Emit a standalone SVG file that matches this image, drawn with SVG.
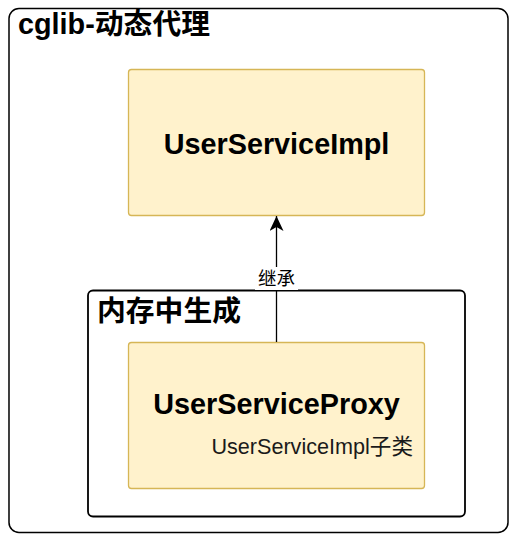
<svg xmlns="http://www.w3.org/2000/svg" width="516" height="541" viewBox="0 0 516 541">
  <style>
    .frame { fill: #ffffff; stroke: #000000; }
    .cls { fill: #fff2cc; stroke: #d6b656; stroke-width: 1.3; }
    .title { font-family: "Liberation Sans", "Noto Sans CJK SC", sans-serif; font-weight: bold; font-size: 28.8px; fill: #000000; }
    .name { font-family: "Liberation Sans", "Noto Sans CJK SC", sans-serif; font-weight: bold; font-size: 28.8px; fill: #000000; text-anchor: middle; }
    .sub { font-family: "Liberation Sans", "Noto Sans CJK SC", sans-serif; font-size: 21.6px; fill: #1a1a1a; text-anchor: end; }
    .elabel { font-family: "Noto Sans CJK SC", sans-serif; font-size: 18.5px; fill: #000000; text-anchor: middle; }
    .edge { fill: none; stroke: #000000; stroke-width: 1.3; }
  </style>
  <defs>
    <marker id="arrow" markerUnits="userSpaceOnUse" markerWidth="16" markerHeight="16" refX="15" refY="7" orient="auto">
      <path d="M15,7 L0,0 L4,7 L0,14 Z" fill="#000000"/>
    </marker>
  </defs>

  <g id="outer">
    <rect class="frame" x="9" y="8.5" width="499" height="524" rx="10" ry="10" stroke-width="1.5"/>
    <text class="title" x="18" y="33.5">cglib-动态代理</text>
  </g>

  <g id="impl">
    <rect class="cls" x="128.5" y="69.5" width="296" height="146" rx="3" ry="3"/>
    <text class="name" x="276.5" y="153.5">UserServiceImpl</text>
  </g>

  <g id="memory">
    <rect class="frame" x="88" y="290.5" width="377" height="226" rx="5" ry="5" stroke-width="1.8"/>
    <text class="title" x="97" y="321">内存中生成</text>
  </g>

  <g id="proxy">
    <rect class="cls" x="128.5" y="342.5" width="296" height="146" rx="3" ry="3"/>
    <text class="name" x="276.5" y="414">UserServiceProxy</text>
    <text class="sub" x="413" y="454">UserServiceImpl子类</text>
  </g>

  <g id="connectors">
    <path class="edge" d="M276.5,342 L276.5,216" marker-end="url(#arrow)"/>
    <rect x="255" y="267" width="43" height="23" fill="#ffffff"/>
    <text class="elabel" x="276.5" y="285">继承</text>
  </g>
</svg>
